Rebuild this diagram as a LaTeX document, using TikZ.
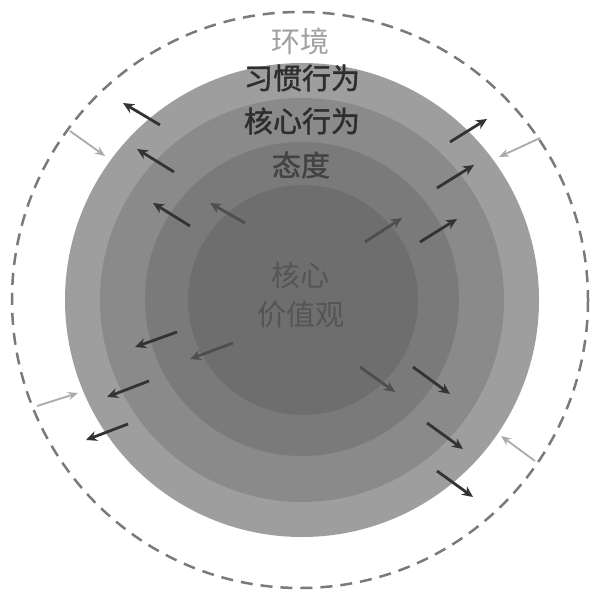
\documentclass[tikz,border=0pt]{standalone}
\usepackage{fontspec}
\newfontfamily\cjk{Noto Sans CJK SC}
\newfontfamily\cjkb{Noto Sans CJK SC}[FakeBold=1.5]
\usetikzlibrary{arrows.meta}
\definecolor{ringA}{HTML}{9E9E9E}
\definecolor{ringB}{HTML}{8A8A8A}
\definecolor{ringC}{HTML}{7A7A7A}
\definecolor{ringD}{HTML}{6E6E6E}
\definecolor{arrowdark}{HTML}{333333}
\definecolor{arrowfaint}{HTML}{4E4E4E}
\definecolor{arrowlight}{HTML}{AAAAAA}
\definecolor{envgray}{HTML}{A0A0A0}
\definecolor{dashgray}{HTML}{7A7A7A}
\definecolor{txtdark}{HTML}{2E2E2E}
\definecolor{txtcore}{HTML}{555555}
\begin{document}
\begin{tikzpicture}[x=1pt,y=-1pt,
  outarrow/.style={draw=arrowdark, line width=2.8pt, -{Stealth[length=11pt,width=10pt]}},
  faintarrow/.style={outarrow, draw=arrowfaint},
  inarrow/.style={draw=arrowlight, line width=1.8pt, -{Stealth[length=10pt,width=8pt]}},
  lbl/.style={font=\cjk\fontsize{29}{29}\selectfont, inner sep=0pt},
  lblb/.style={font=\cjkb\fontsize{29}{29}\selectfont, inner sep=0pt},
]
\useasboundingbox (0,0) rectangle (593,594);
% layers
\fill[ringA] (302,300) circle[radius=237];
\fill[ringB] (302,300) circle[radius=202];
\fill[ringC] (302,299) circle[radius=157];
\fill[ringD] (303,300) circle[radius=115];
% environment boundary
\draw[dashgray, line width=2.5pt, dash pattern=on 12pt off 8pt] (300,300) circle[radius=288];
% labels
\node[lbl, text=envgray] (env) at (300,41) {环境};
\node[lblb, text=txtdark] (habit) at (302,78) {习惯行为};
\node[lblb, text=txtdark] (corebeh) at (302,121) {核心行为};
\node[lblb, text=txtdark!90!white] (attit) at (301,165) {态度};
\node[lbl, text=txtcore] (core1) at (300,275) {核心};
\node[lbl, text=txtcore] (core2) at (301,315) {价值观};
% arrow end points
\coordinate (a1t) at (160,125); \coordinate (a1h) at (123,103);
\coordinate (a3t) at (174,172); \coordinate (a3h) at (137,149);
\coordinate (a4t) at (190,226); \coordinate (a4h) at (153,203);
\coordinate (a5t) at (245,223); \coordinate (a5h) at (210,203);
\coordinate (a2t) at (70,131);  \coordinate (a2h) at (105,156);
\coordinate (b1t) at (450,142); \coordinate (b1h) at (487,119);
\coordinate (b3t) at (437,188); \coordinate (b3h) at (474,165);
\coordinate (b4t) at (420,242); \coordinate (b4h) at (457,219);
\coordinate (b5t) at (365,242); \coordinate (b5h) at (402,218);
\coordinate (b2t) at (540,138); \coordinate (b2h) at (499,157);
\coordinate (c1t) at (177,332); \coordinate (c1h) at (135,347);
\coordinate (c2t) at (233,343); \coordinate (c2h) at (190,359);
\coordinate (c3t) at (149,381); \coordinate (c3h) at (107,397);
\coordinate (c5t) at (128,424); \coordinate (c5h) at (86,440);
\coordinate (c4t) at (37,406);  \coordinate (c4h) at (78,393);
\coordinate (d1t) at (360,367); \coordinate (d1h) at (395,392);
\coordinate (d2t) at (413,367); \coordinate (d2h) at (450,394);
\coordinate (d3t) at (427,423); \coordinate (d3h) at (463,449);
\coordinate (d5t) at (437,471); \coordinate (d5h) at (473,497);
\coordinate (d4t) at (535,461); \coordinate (d4h) at (501,436);
% outward arrows
\draw[outarrow] (a1t) -- (a1h);
\draw[outarrow] (a3t) -- (a3h);
\draw[outarrow] (a4t) -- (a4h);
\draw[faintarrow] (a5t) -- (a5h);
\draw[outarrow] (b1t) -- (b1h);
\draw[outarrow] (b3t) -- (b3h);
\draw[outarrow] (b4t) -- (b4h);
\draw[faintarrow] (b5t) -- (b5h);
\draw[outarrow] (c1t) -- (c1h);
\draw[faintarrow] (c2t) -- (c2h);
\draw[outarrow] (c3t) -- (c3h);
\draw[outarrow] (c5t) -- (c5h);
\draw[faintarrow] (d1t) -- (d1h);
\draw[outarrow] (d2t) -- (d2h);
\draw[outarrow] (d3t) -- (d3h);
\draw[outarrow] (d5t) -- (d5h);
% inward arrows from environment
\draw[inarrow] (a2t) -- (a2h);
\draw[inarrow] (b2t) -- (b2h);
\draw[inarrow] (c4t) -- (c4h);
\draw[inarrow] (d4t) -- (d4h);
\end{tikzpicture}
\end{document}
